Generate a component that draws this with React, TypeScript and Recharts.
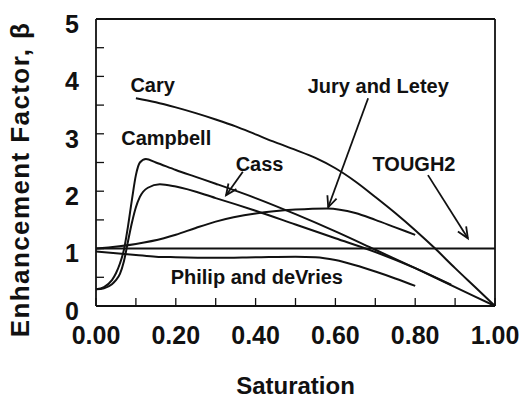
import React from 'react';
import { LineChart, Line, XAxis, YAxis, ReferenceLine, ReferenceDot } from 'recharts';

const FONT = '"Liberation Sans", Arial, Helvetica, sans-serif';
const INK = '#111';

// saturation (x) and enhancement factor (y)
const carySat = [0.1, 0.15, 0.2, 0.25, 0.3, 0.35, 0.4, 0.45, 0.5, 0.55, 0.6, 0.65, 0.7, 0.75, 0.8, 0.85, 0.9, 0.95, 1.0];
const caryBeta = [3.62, 3.55, 3.46, 3.36, 3.25, 3.13, 2.99, 2.85, 2.72, 2.58, 2.4, 2.17, 1.9, 1.62, 1.32, 1.0, 0.66, 0.33, 0];

const campbellSat = [0, 0.02, 0.04, 0.05, 0.06, 0.07, 0.08, 0.09, 0.1, 0.11, 0.125, 0.15, 0.2, 0.25, 0.3, 0.4, 0.5, 0.6, 0.7, 0.8, 0.9, 1.0];
const campbellBeta = [0.29, 0.33, 0.45, 0.57, 0.74, 0.98, 1.38, 1.85, 2.28, 2.5, 2.56, 2.5, 2.37, 2.25, 2.13, 1.88, 1.6, 1.3, 0.98, 0.66, 0.33, 0];

const cassSat = [0, 0.02, 0.04, 0.05, 0.06, 0.07, 0.08, 0.09, 0.1, 0.11, 0.13, 0.16, 0.2, 0.3, 0.4, 0.5, 0.6, 0.7, 0.8, 0.89];
const cassBeta = [0.29, 0.31, 0.38, 0.45, 0.56, 0.78, 1.12, 1.45, 1.72, 1.9, 2.06, 2.12, 2.08, 1.88, 1.66, 1.42, 1.18, 0.94, 0.66, 0.37];

const jurySat = [0, 0.1, 0.17, 0.2, 0.25, 0.3, 0.4, 0.5, 0.58, 0.65, 0.7, 0.75, 0.8];
const juryBeta = [1.0, 1.08, 1.18, 1.24, 1.36, 1.47, 1.61, 1.68, 1.7, 1.62, 1.5, 1.37, 1.24];

const philipSat = [0, 0.05, 0.1, 0.15, 0.2, 0.3, 0.4, 0.5, 0.55, 0.6, 0.65, 0.7, 0.75, 0.8];
const philipBeta = [0.95, 0.92, 0.89, 0.86, 0.85, 0.84, 0.85, 0.86, 0.85, 0.8, 0.71, 0.6, 0.48, 0.35];

const toughSat = [0, 1.0];
const toughBeta = [1, 1];

const xTicks = [0, 0.1, 0.2, 0.3, 0.4, 0.5, 0.6, 0.7, 0.8, 0.9, 1.0];
const yTicks = [0, 0.5, 1, 1.5, 2, 2.5, 3, 3.5, 4, 4.5, 5];

// curve names and where they sit on the plot
const labelText = ['Cary', 'Campbell', 'Cass', 'Jury and Letey', 'TOUGH2', 'Philip and deVries'];
const labelSat = [0.142, 0.176, 0.41, 0.7075, 0.797, 0.403];
const labelBeta = [3.85, 2.92, 2.47, 3.84, 2.47, 0.5];

// pointer arrows: tail -> head
const arrowFromSat = [0.368, 0.682, 0.832];
const arrowFromBeta = [2.34, 3.62, 2.28];
const arrowToSat = [0.326, 0.582, 0.932];
const arrowToBeta = [1.93, 1.72, 1.18];

const zip = (xs: number[], ys: number[]) => xs.map((s, i) => ({ s, b: ys[i] }));

const series = [
  zip(carySat, caryBeta),
  zip(campbellSat, campbellBeta),
  zip(cassSat, cassBeta),
  zip(jurySat, juryBeta),
  zip(philipSat, philipBeta),
  zip(toughSat, toughBeta),
];

const Arrow = (p: any) => {
  const { x1, y1, x2, y2 } = p;
  const a = Math.atan2(y2 - y1, x2 - x1);
  const len = 12;
  const spread = 0.42;
  const hx1 = x2 - len * Math.cos(a - spread);
  const hy1 = y2 - len * Math.sin(a - spread);
  const hx2 = x2 - len * Math.cos(a + spread);
  const hy2 = y2 - len * Math.sin(a + spread);
  return (
    <g>
      <line x1={x1} y1={y1} x2={x2} y2={y2} stroke={INK} strokeWidth={1.8} />
      <polyline points={`${hx1},${hy1} ${x2},${y2} ${hx2},${hy2}`} fill="none" stroke={INK} strokeWidth={1.8} />
    </g>
  );
};

const YTitle = (p: any) => {
  const { viewBox } = p;
  const x = viewBox.x + 20;
  const y = viewBox.y + viewBox.height / 2 + 17;
  return (
    <text
      x={x}
      y={y}
      transform={`rotate(-90, ${x}, ${y})`}
      textAnchor="middle"
      dominantBaseline="central"
      fontFamily={FONT}
      fontWeight="bold"
      fontSize={26}
      letterSpacing={1.4}
      fill={INK}
    >
      Enhancement Factor, β
    </text>
  );
};

const XTitle = (p: any) => {
  const { viewBox } = p;
  const x = viewBox.x + viewBox.width / 2;
  const y = viewBox.y + viewBox.height - 6;
  return (
    <text x={x} y={y} textAnchor="middle" fontFamily={FONT} fontWeight="bold" fontSize={24} fill={INK}>
      Saturation
    </text>
  );
};

const tickStyle = { fontFamily: FONT, fontWeight: 'bold', fontSize: 25, fill: INK };

export default function App() {
  return (
    <div style={{ position: 'absolute', left: 0, top: 0, background: '#fff' }}>
      <LineChart width={524} height={400} margin={{ top: 18, right: 28, bottom: 0, left: 0 }}>
        <XAxis
          dataKey="s"
          type="number"
          domain={[0, 1]}
          ticks={xTicks}
          interval={0}
          height={94}
          tickSize={-8}
          tickMargin={28}
          stroke={INK}
          axisLine={{ stroke: INK, strokeWidth: 1.8 }}
          tickLine={{ stroke: INK, strokeWidth: 1.3 }}
          tick={tickStyle}
          tickFormatter={(v: number) => (Math.round(v * 10) % 2 === 0 ? v.toFixed(2) : '')}
          label={<XTitle />}
        />
        <XAxis
          xAxisId="top"
          orientation="top"
          dataKey="s"
          type="number"
          domain={[0, 1]}
          ticks={xTicks}
          interval={0}
          height={1}
          tickSize={-8}
          tick={false}
          axisLine={{ stroke: INK, strokeWidth: 1.8 }}
          tickLine={{ stroke: INK, strokeWidth: 1.3 }}
        />
        <YAxis
          type="number"
          domain={[0, 5]}
          ticks={yTicks}
          interval={0}
          width={96}
          tickSize={-8}
          tickMargin={25}
          stroke={INK}
          axisLine={{ stroke: INK, strokeWidth: 1.8 }}
          tickLine={{ stroke: INK, strokeWidth: 1.3 }}
          tick={{ ...tickStyle, dy: 5 }}
          tickFormatter={(v: number) => (Number.isInteger(v) ? String(v) : '')}
          label={<YTitle />}
        />
        <YAxis
          yAxisId="right"
          orientation="right"
          type="number"
          domain={[0, 5]}
          ticks={yTicks}
          interval={0}
          width={1}
          tickSize={-8}
          tick={false}
          axisLine={{ stroke: INK, strokeWidth: 1.8 }}
          tickLine={{ stroke: INK, strokeWidth: 1.3 }}
        />
        {series.map((d, i) => (
          <Line
            key={i}
            data={d}
            dataKey="b"
            type={i === 5 ? 'linear' : 'monotone'}
            stroke={INK}
            strokeWidth={2}
            dot={false}
            activeDot={false}
            isAnimationActive={false}
          />
        ))}
        {arrowFromSat.map((s, i) => (
          <ReferenceLine
            key={`a${i}`}
            segment={[
              { x: s, y: arrowFromBeta[i] },
              { x: arrowToSat[i], y: arrowToBeta[i] },
            ]}
            shape={Arrow}
          />
        ))}
        {labelText.map((t, i) => (
          <ReferenceDot
            key={`l${i}`}
            x={labelSat[i]}
            y={labelBeta[i]}
            r={0}
            stroke="none"
            fill="none"
            label={{
              value: t,
              position: 'center',
              fontFamily: FONT,
              fontWeight: 'bold',
              fontSize: 20,
              fill: INK,
            }}
          />
        ))}
      </LineChart>
    </div>
  );
}
